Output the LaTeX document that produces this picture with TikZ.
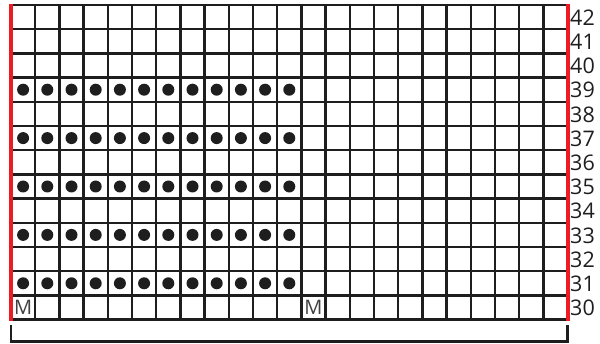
\documentclass[tikz,border=0pt]{standalone}
\usepackage{fontspec}
\setmainfont{Open Sans}
\usetikzlibrary{positioning}
\definecolor{chartred}{RGB}{237,28,36}
\definecolor{ink}{RGB}{30,30,30}
\tikzset{
  cell/.style={line width=2.4pt,draw=ink},
  edge/.style={line width=4pt,draw=chartred},
  purl/.style={fill=ink},
  rownum/.style={anchor=west,inner sep=0pt,text=ink,font=\fontsize{21.5}{21.5}\selectfont},
  marker/.style={inner sep=0pt,text=ink!85,font=\fontsize{20}{20}\selectfont},
  brace/.style={line width=2.4pt,draw=ink},
}
\begin{document}
\begin{tikzpicture}[x=1pt,y=-1pt]
  \useasboundingbox (0,0) rectangle (600,344);
  \def\s{24.2}
  % grid
  \foreach \c in {1,...,22} \draw[cell] ({11+\c*\s},5) -- ({11+\c*\s},{5+13*\s});
  \foreach \r in {0,...,13} \draw[cell] (11,{5+\r*\s}) -- ({11+23*\s},{5+\r*\s});
  % side edges
  \draw[edge] (11,4) -- (11,{6+13*\s});
  \draw[edge] ({11+23*\s},4) -- ({11+23*\s},{6+13*\s});
  % purl rows
  \foreach \r in {31,33,35,37,39}
    \foreach \c in {1,...,12}
      \fill[purl] ({11+(\c-0.5)*\s},{5+(42.5-\r)*\s}) circle (6);
  % markers
  \node[marker] (m1) at ({11+0.5*\s},{5+12.5*\s}) {M};
  \node[marker] (m2) at ({11+12.5*\s},{5+12.5*\s}) {M};
  % row numbers
  \foreach \r in {30,...,42}
    \node[rownum] (n\r) at (570,{5.5+(42.5-\r)*\s}) {\r};
  % bracket
  \draw[brace] (11,325) |- ({11+23*\s},341.5) -- ({11+23*\s},325);
\end{tikzpicture}
\end{document}
